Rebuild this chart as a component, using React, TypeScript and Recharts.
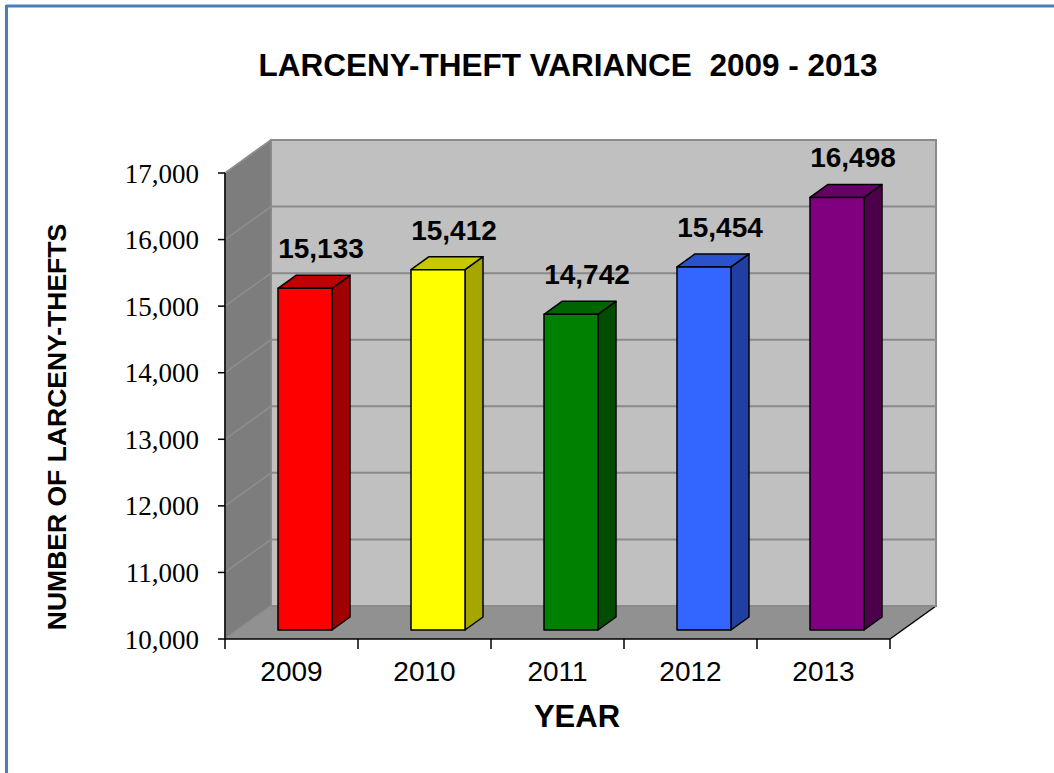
import { BarChart, Bar, XAxis, YAxis, CartesianGrid, LabelList } from "recharts";

const YEARS = ["2009", "2010", "2011", "2012", "2013"];
const THEFTS = [15133, 15412, 14742, 15454, 16498];
const Y_TICKS = [10000, 11000, 12000, 13000, 14000, 15000, 16000, 17000];

// front / top / side shades per bar
const FRONT = ["#ff0000", "#ffff00", "#008000", "#3366ff", "#800080"];
const TOP = ["#c00000", "#c8c800", "#006400", "#2a52cc", "#660066"];
const SIDE = ["#a00000", "#a6a600", "#004c00", "#1f3fa3", "#4c004c"];

const rows = YEARS.map((year, i) => ({ year, value: THEFTS[i] }));

const W = 1054;
const H = 773;
// front plane of the plot
const L = 225, R = 890, T = 173, B = 639;
// wall depth
const DX = 46, DY = -33;
// bar placement inside the depth
const BX = 13, BY = -9, BDX = 18, BDY = -13;

const SANS = "'Liberation Sans', Arial, sans-serif";
const SERIF = "'Liberation Serif', 'Times New Roman', serif";

const fmt = (v: number) => v.toLocaleString("en-US");

function Bar3D(props: any) {
  const { x, y, width, height, index } = props;
  if (height == null || width == null) return null;
  const fx = x + BX;
  const fy = y + BY;
  const w = width;
  const h = height;
  return (
    <g stroke="#000" strokeWidth={1.5} strokeLinejoin="round">
      <polygon
        points={`${fx + w},${fy} ${fx + w + BDX},${fy + BDY} ${fx + w + BDX},${fy + h + BDY} ${fx + w},${fy + h}`}
        fill={SIDE[index]}
      />
      <polygon
        points={`${fx},${fy} ${fx + BDX},${fy + BDY} ${fx + w + BDX},${fy + BDY} ${fx + w},${fy}`}
        fill={TOP[index]}
      />
      <rect x={fx} y={fy} width={w} height={h} fill={FRONT[index]} />
    </g>
  );
}

function BarValue(props: any) {
  const { x, y, width, value } = props;
  return (
    <text
      x={x + BX + width / 2 + 16}
      y={y - 39}
      textAnchor="middle"
      fontFamily={SANS}
      fontWeight="bold"
      fontSize={28}
      fill="#000"
    >
      {fmt(value)}
    </text>
  );
}

function GridLine(props: any) {
  const { x1, x2, y1 } = props;
  return (
    <g>
      <line x1={x1} y1={y1} x2={x1 + DX} y2={y1 + DY} stroke="#8e8e8e" strokeWidth={1.5} />
      <line x1={x1 + DX} y1={y1 + DY} x2={x2 + DX} y2={y1 + DY} stroke="#8a8a8a" strokeWidth={2} />
    </g>
  );
}

function YearTick(props: any) {
  const { x, y, payload, index } = props;
  const half = payload && payload.offset ? payload.offset : (R - L) / YEARS.length / 2;
  return (
    <g>
      <line x1={x - half} y1={B} x2={x - half} y2={B + 10} stroke="#000" strokeWidth={1.5} />
      {index === YEARS.length - 1 && (
        <line x1={x + half} y1={B} x2={x + half} y2={B + 10} stroke="#000" strokeWidth={1.5} />
      )}
      <text x={x} y={y + 34} textAnchor="middle" fontFamily={SANS} fontSize={28} fill="#000">
        {payload.value}
      </text>
    </g>
  );
}

function Backdrop() {
  return (
    <svg width={W} height={H} style={{ position: "absolute", left: 0, top: 0 }}>
      <rect x={0} y={0} width={W} height={H} fill="#fff" />
      <line x1={6} y1={6} x2={W} y2={6} stroke="#4a7ebb" strokeWidth={3} />
      <line x1={6.5} y1={5} x2={6.5} y2={H} stroke="#4a7ebb" strokeWidth={3} />

      {/* walls */}
      <rect x={L + DX} y={T + DY} width={R - L} height={B - T} fill="#c0c0c0" stroke="#8a8a8a" strokeWidth={2} />
      <polygon
        points={`${L},${T} ${L + DX},${T + DY} ${L + DX},${B + DY} ${L},${B}`}
        fill="#7d7d7d"
        stroke="#8a8a8a"
        strokeWidth={1.5}
      />
      <polygon
        points={`${L},${B} ${R},${B} ${R + DX},${B + DY} ${L + DX},${B + DY}`}
        fill="#919191"
      />
      <line x1={R} y1={B} x2={R + DX} y2={B + DY} stroke="#000" strokeWidth={1.5} />

      <text
        x={568}
        y={76}
        textAnchor="middle"
        fontFamily={SANS}
        fontWeight="bold"
        fontSize={31.5}
        fill="#000"
      >
        LARCENY-THEFT VARIANCE{"\u00a0\u00a0"}2009 - 2013
      </text>
      <text x={577} y={727} textAnchor="middle" fontFamily={SANS} fontWeight="bold" fontSize={31} fill="#000">
        YEAR
      </text>
      <text
        transform="translate(66,427) rotate(-90)"
        textAnchor="middle"
        fontFamily={SANS}
        fontWeight="bold"
        fontSize={26.5}
        fill="#000"
      >
        NUMBER OF LARCENY-THEFTS
      </text>
    </svg>
  );
}

export default function App() {
  return (
    <div style={{ position: "absolute", left: 0, top: 0, width: W, height: H }}>
      <Backdrop />
      <div style={{ position: "absolute", left: 0, top: 0 }}>
        <BarChart
          width={W}
          height={H}
          data={rows}
          margin={{ top: T, right: W - R, bottom: H - B - 60, left: L - 100 }}
        >
          <CartesianGrid vertical={false} horizontal={(p: any) => <GridLine {...p} />} />
          <XAxis
            dataKey="year"
            height={60}
            axisLine={{ stroke: "#000", strokeWidth: 1.5 }}
            tickLine={false}
            tick={(p: any) => <YearTick {...p} />}
            interval={0}
          />
          <YAxis
            width={100}
            domain={[10000, 17000]}
            ticks={Y_TICKS}
            interval={0}
            tickFormatter={fmt}
            axisLine={{ stroke: "#000", strokeWidth: 1.5 }}
            tickLine={{ stroke: "#000", strokeWidth: 1.5 }}
            tickSize={7}
            tickMargin={19}
            tick={{ fontFamily: SERIF, fontSize: 27, fill: "#000" }}
          />
          <Bar dataKey="value" barSize={54} shape={Bar3D} isAnimationActive={false}>
            <LabelList dataKey="value" content={BarValue} />
          </Bar>
        </BarChart>
      </div>
    </div>
  );
}
